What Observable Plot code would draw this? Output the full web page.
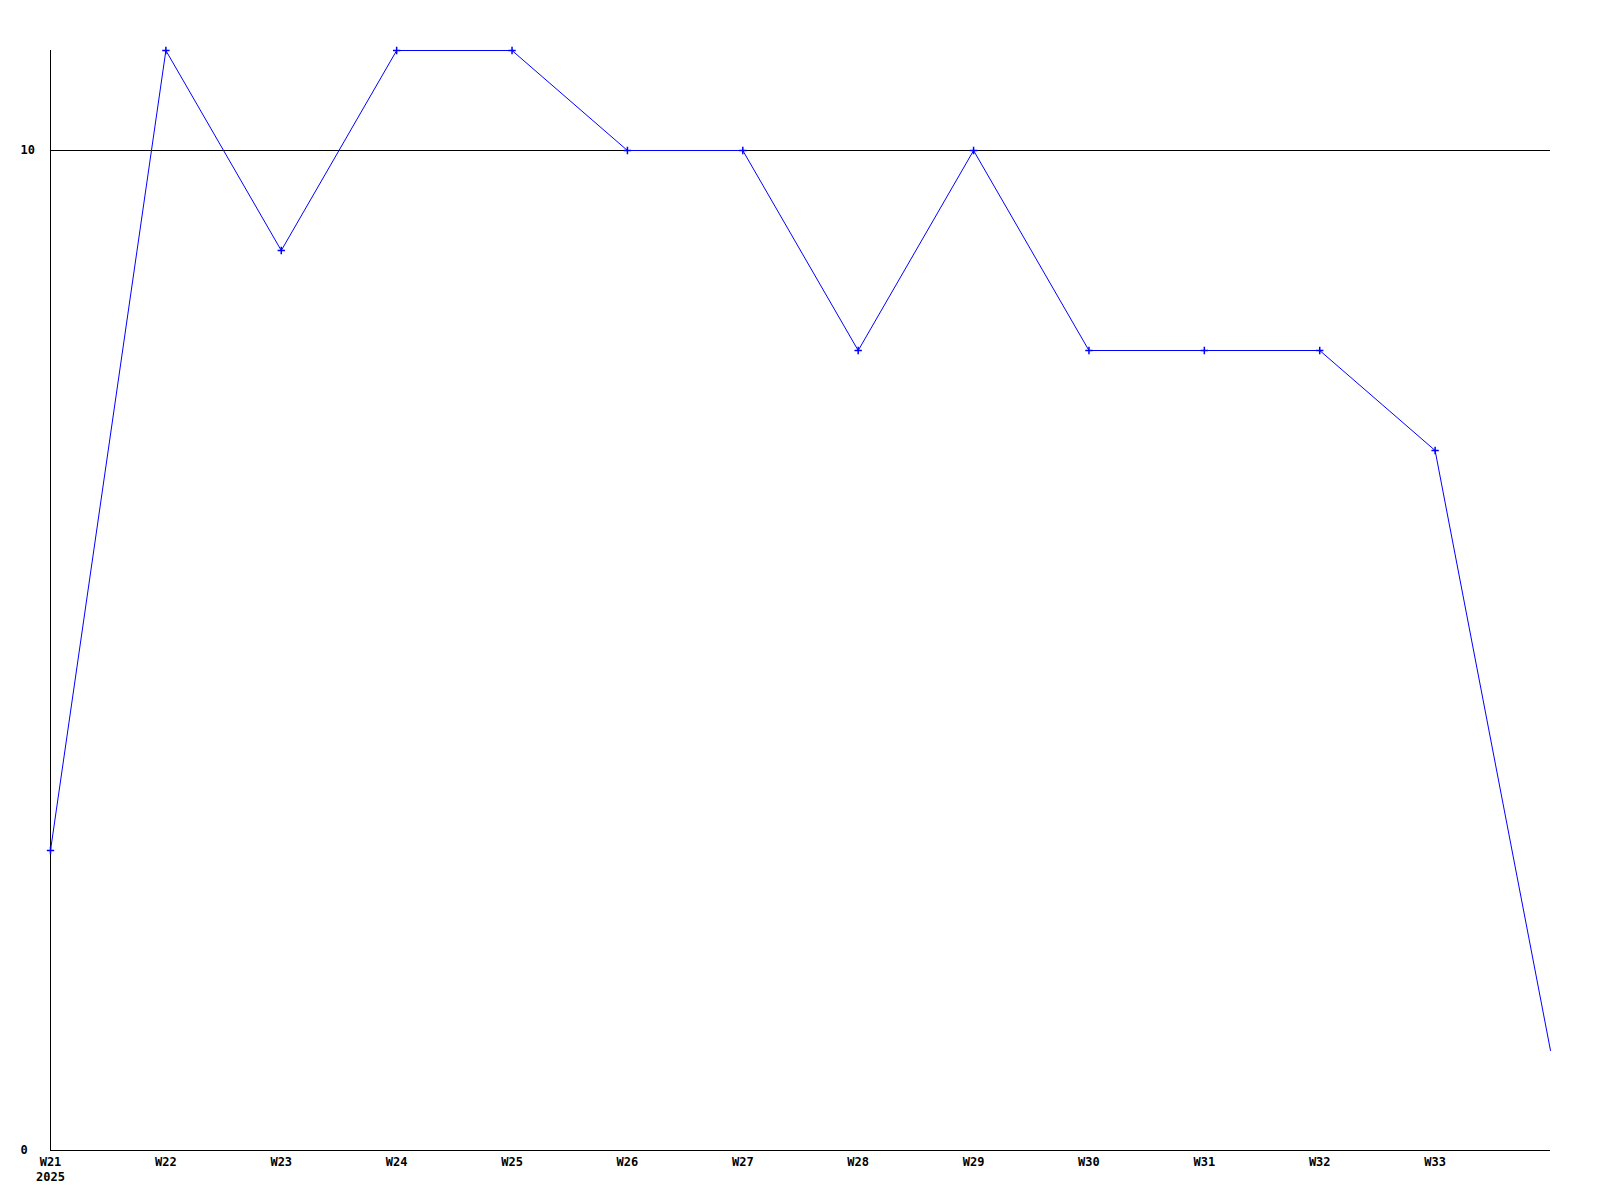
<!DOCTYPE html>
<html>
<head>
<meta charset="utf-8">
<script src="https://cdn.jsdelivr.net/npm/d3@7"></script>
<script src="https://cdn.jsdelivr.net/npm/@observablehq/plot@0.6"></script>
<style>
  html, body { margin: 0; padding: 0; background: #fff; }
  svg { display: block; }
</style>
</head>
<body>
<div id="chart"></div>
<script>
const weeks = ["W21","W22","W23","W24","W25","W26","W27","W28","W29","W30","W31","W32","W33","W34"];
const values = [3, 11, 9, 11, 11, 10, 10, 8, 10, 8, 8, 8, 7, 1];
const tickLabels = ["W21\n2025","W22","W23","W24","W25","W26","W27","W28","W29","W30","W31","W32","W33"];
const yTicks = [0, 10];

const data = weeks.map((w, i) => ({i, week: w, value: values[i]}));
const markerData = data.slice(0, tickLabels.length);

const chart = Plot.plot({
  width: 1600,
  height: 1200,
  marginLeft: 50,
  marginRight: 50,
  marginTop: 50,
  marginBottom: 50,
  style: {fontFamily: "'DejaVu Sans Mono', monospace", fontSize: "12px", fontWeight: "bold", color: "#000", background: "#fff"},
  x: {type: "linear", domain: [0, weeks.length - 1]},
  y: {domain: [0, 11]},
  marks: [
    Plot.ruleY([10], {stroke: "#000", strokeWidth: 1}),
    Plot.ruleY([0], {stroke: "#000", strokeWidth: 1}),
    Plot.ruleX([0], {stroke: "#000", strokeWidth: 1}),
    Plot.axisX({ticks: d3.range(tickLabels.length), tickFormat: d => tickLabels[d], tickSize: 0, tickPadding: 5, label: null, lineHeight: 1.25}),
    Plot.axisY({ticks: yTicks, tickSize: 0, textAnchor: "start", dx: -21, label: null}),
    Plot.line(data, {x: "i", y: "value", stroke: "#0000ff", strokeWidth: 1}),
    Plot.dot(markerData, {x: "i", y: "value", symbol: "plus", r: 2.5, stroke: "#0000ff", strokeWidth: 1.5})
  ]
});
document.getElementById("chart").appendChild(chart);
</script>
</body>
</html>
